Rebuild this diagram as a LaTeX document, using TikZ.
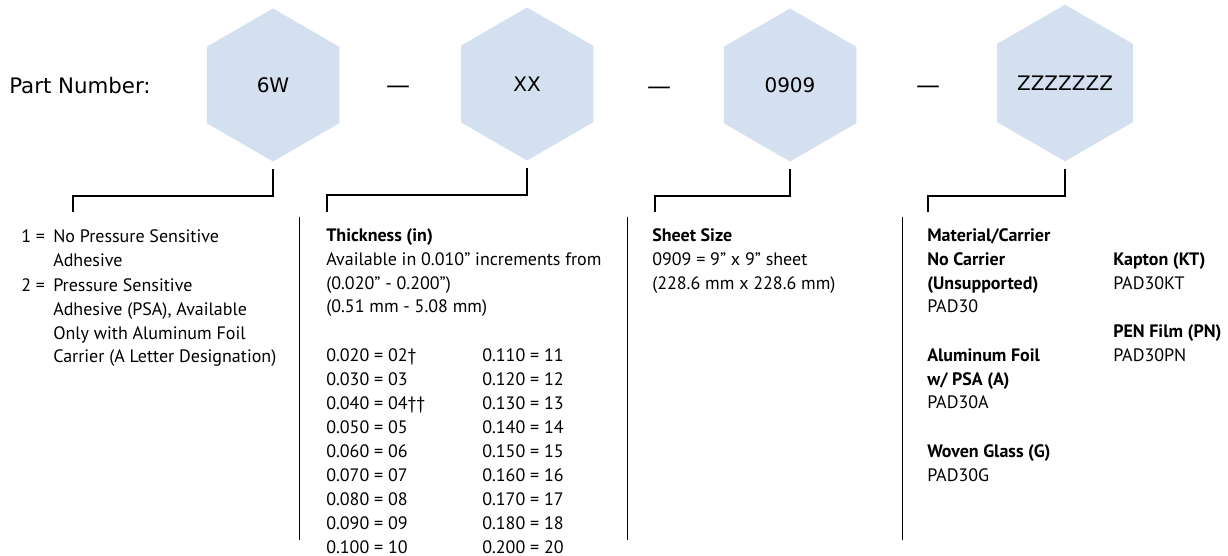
\documentclass[tikz,border=0pt]{standalone}
\usepackage{fontspec}
\setmainfont{PT Sans}
\newfontfamily\headfont{DejaVu Sans}
\usetikzlibrary{shapes.geometric}
\definecolor{hexblue}{RGB}{212,224,240}
\newcommand{\lines}[1]{\begin{tabular}[t]{@{}l@{}}#1\end{tabular}}
\begin{document}
\begin{tikzpicture}[x=0.75pt,y=-0.75pt,
    hexa/.style={regular polygon,regular polygon sides=6,shape border rotate=30,
      fill=hexblue,minimum size=114.75pt,inner sep=0pt,font=\headfont\fontsize{15}{18}\selectfont},
    big/.style={font=\headfont\fontsize{15}{18}\selectfont},
    dash sign/.style={font=\headfont\fontsize{18}{18}\selectfont},
    txt/.style={anchor=base west,inner sep=0pt,font=\fontsize{13.5}{18}\selectfont},
    brk/.style={line width=1.5pt},
    sep/.style={line width=0.75pt}]
  \useasboundingbox (0,0) rectangle (1228,556);
  % part number row
  \node[big,anchor=base west,inner sep=0pt,font=\headfont\fontsize{16}{18}\selectfont] (pn) at (9,94) {Part Number:};
  \node[hexa] (h1) at (273,85) {6W};
  \node[hexa] (h2) at (527,84) {XX};
  \node[hexa] (h3) at (790,85) {0909};
  \node[hexa] (h4) at (1065,83) {ZZZZZZZ};
  \node[dash sign] (d1) at (398,90) {—};
  \node[dash sign] (d2) at (659,91) {—};
  \node[dash sign] (d3) at (928,90) {—};
  % brackets
  \coordinate (b1) at (73,212);
  \coordinate (b2) at (327,212);
  \coordinate (b3) at (655,212);
  \coordinate (b4) at (928,212);
  \draw[brk] ([yshift=-5.25pt]h1.south) -- ++(0,27) -| (b1);
  \draw[brk] ([yshift=-5.25pt]h2.south) -- ++(0,27) -| (b2);
  \draw[brk] ([yshift=-5.25pt]h3.south) -- ++(0,27) -| (b3);
  \draw[brk] ([yshift=-5.25pt]h4.south) -- ++(0,27) -| (b4);
  % separators
  \draw[sep] (299,217) -- (299,540);
  \draw[sep] (627,217) -- (627,540);
  \draw[sep] (902,217) -- (902,540);
  % adhesive
  \node[txt] (o1) at (21,243) {1 =};
  \node[txt] (t1) at (53,243) {\lines{No Pressure Sensitive\\Adhesive}};
  \node[txt] (o2) at (21,291) {2 =};
  \node[txt] (t2) at (53,291) {\lines{Pressure Sensitive\\Adhesive (PSA), Available\\Only with Aluminum Foil\\Carrier (A Letter Designation)}};
  % thickness
  \node[txt] (thk) at (326,241) {\lines{\textbf{Thickness (in)}\\Available in 0.010” increments from\\(0.020" - 0.200")\\(0.51 mm - 5.08 mm)}};
  \foreach \l/\r [count=\i from 0] in {0.020 = 02†/0.110 = 11,0.030 = 03/0.120 = 12,
      0.040 = 04††/0.130 = 13,0.050 = 05/0.140 = 14,0.060 = 06/0.150 = 15,
      0.070 = 07/0.160 = 16,0.080 = 08/0.170 = 17,0.090 = 09/0.180 = 18,0.100 = 10/0.200 = 20}{
    \node[txt] (tl\i) at (326,361+24*\i) {\l};
    \node[txt] (tr\i) at (482,361+24*\i) {\r};
  }
  % sheet size
  \node[txt] (sh) at (652,241) {\lines{\textbf{Sheet Size}\\0909 = 9" x 9" sheet\\(228.6 mm x 228.6 mm)}};
  % carrier
  \node[txt] (m1) at (927,241) {\lines{\textbf{Material/Carrier}\\\textbf{No Carrier}\\\textbf{(Unsupported)}\\PAD30\\[18pt]
    \textbf{Aluminum Foil}\\\textbf{w/ PSA (A)}\\PAD30A\\[18pt]\textbf{Woven Glass (G)}\\PAD30G}};
  \node[txt] (m2) at (1113,265) {\lines{\textbf{Kapton (KT)}\\PAD30KT\\[18pt]\textbf{PEN Film (PN)}\\PAD30PN}};
\end{tikzpicture}
\end{document}
